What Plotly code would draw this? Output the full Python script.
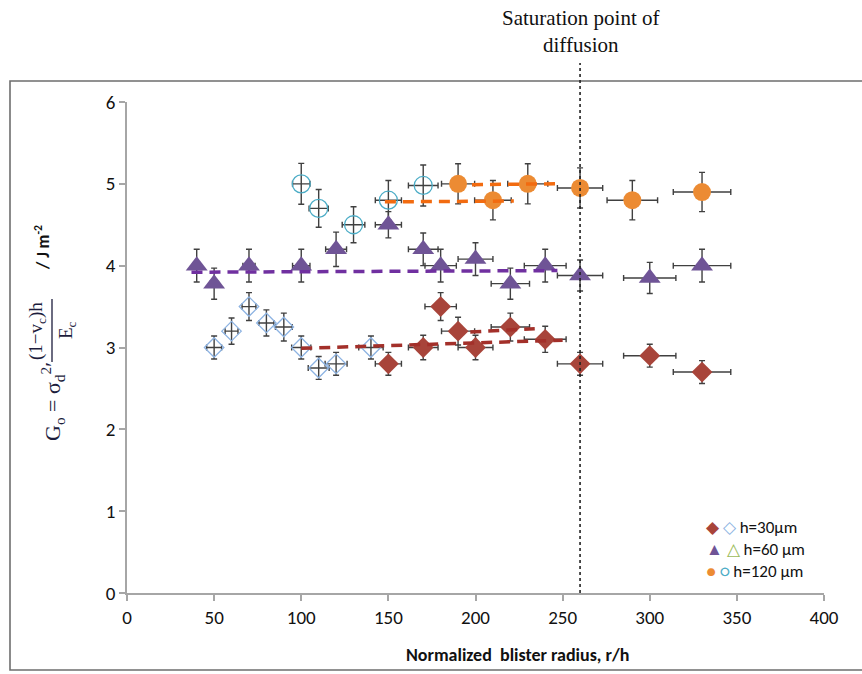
import plotly.graph_objects as go

# ---------------- data ----------------
# h = 30 um
d30_open_x = [50, 60, 70, 80, 90, 100, 110, 120, 140]
d30_open_y = [3.0, 3.2, 3.5, 3.3, 3.25, 3.0, 2.75, 2.8, 3.0]
d30_open_xerr = [4.3, 3.7, 4.0, 4.3, 4.8, 5.5, 6.0, 6.3, 7.0]
d30_open_yerr = [0.14, 0.16, 0.17, 0.16, 0.17, 0.14, 0.14, 0.14, 0.14]

d30_x = [150, 170, 180, 190, 200, 220, 240, 260, 300, 330]
d30_y = [2.8, 3.0, 3.5, 3.2, 3.0, 3.25, 3.1, 2.8, 2.9, 2.7]
d30_xerr = [7.5, 8.5, 9.0, 9.5, 10.0, 11.0, 12.0, 13.0, 15.0, 16.5]
d30_yerr = [0.14, 0.15, 0.17, 0.17, 0.15, 0.17, 0.16, 0.14, 0.14, 0.14]

# h = 60 um
d60_x = [40, 50, 70, 100, 120, 150, 170, 180, 200, 220, 240, 260, 300, 330]
d60_y = [4.0, 3.78, 4.0, 4.0, 4.2, 4.5, 4.2, 4.0, 4.08, 3.78, 4.0, 3.88, 3.85, 4.0]
d60_xerr = [2.0, 2.5, 3.5, 5.0, 6.0, 7.5, 8.5, 9.0, 10.0, 11.0, 12.0, 13.0, 15.0, 16.5]
d60_yerr = [0.2, 0.19, 0.2, 0.2, 0.21, 0.16, 0.2, 0.2, 0.2, 0.19, 0.2, 0.19, 0.19, 0.2]

# h = 120 um
d120_open_x = [100, 110, 130, 150, 170]
d120_open_y = [5.0, 4.7, 4.5, 4.8, 4.98]
d120_open_xerr = [5.0, 5.5, 6.5, 7.5, 8.5]
d120_open_yerr = [0.25, 0.23, 0.22, 0.24, 0.25]

d120_x = [190, 210, 230, 260, 290, 330]
d120_y = [5.0, 4.8, 5.0, 4.95, 4.8, 4.9]
d120_xerr = [9.5, 10.5, 11.5, 13.0, 14.5, 16.5]
d120_yerr = [0.245, 0.24, 0.245, 0.245, 0.24, 0.24]

# dashed trend lines
t30a_x = [100, 250]
t30a_y = [2.99, 3.09]
t30b_x = [197, 234]
t30b_y = [3.19, 3.23]
t60_x = [37, 247]
t60_y = [3.92, 3.94]
t120a_x = [148, 222]
t120a_y = [4.78, 4.79]
t120b_x = [198, 246]
t120b_y = [4.99, 5.0]

saturation_x = 260

x_ticks = [0, 50, 100, 150, 200, 250, 300, 350, 400]
y_ticks = [0, 1, 2, 3, 4, 5, 6]

# ---------------- styles ----------------
C_RED = "#A8443A"
C_PURPLE = "#6F5496"
C_ORANGE = "#EC8B33"
C_OPEN_D = "#8DB3E2"
C_OPEN_C = "#4BACC6"
C_OPEN_T = "#9BBB59"
ERR = dict(color="#404040", thickness=1.4, width=3)

L, R, T, B = 127, 824, 102, 593
W, H = 862, 674


def px(x):
    return (x - L) / (R - L)


def py(y):
    return (B - y) / (B - T)


def err(arr):
    return dict(type="data", array=arr, visible=True, **ERR)


fig = go.Figure()

fig.add_trace(go.Scatter(x=d30_open_x, y=d30_open_y, mode="markers",
                         marker=dict(symbol="diamond-open", size=15, color=C_OPEN_D, line=dict(width=1.3)),
                         error_x=err(d30_open_xerr), error_y=err(d30_open_yerr), showlegend=False))
fig.add_trace(go.Scatter(x=d120_open_x, y=d120_open_y, mode="markers",
                         marker=dict(symbol="circle-open", size=18, color=C_OPEN_C, line=dict(width=1.3)),
                         error_x=err(d120_open_xerr), error_y=err(d120_open_yerr), showlegend=False))
fig.add_trace(go.Scatter(x=d30_x, y=d30_y, mode="markers",
                         marker=dict(symbol="diamond", size=16, color=C_RED),
                         error_x=err(d30_xerr), error_y=err(d30_yerr), showlegend=False))
fig.add_trace(go.Scatter(x=d60_x, y=d60_y, mode="markers",
                         marker=dict(symbol="triangle-up", size=19, color=C_PURPLE),
                         error_x=err(d60_xerr), error_y=err(d60_yerr), showlegend=False))
fig.add_trace(go.Scatter(x=d120_x, y=d120_y, mode="markers",
                         marker=dict(symbol="circle", size=18, color=C_ORANGE),
                         error_x=err(d120_xerr), error_y=err(d120_yerr), showlegend=False))

DASH = "11px,7px"
for tx, ty, col in [(t30a_x, t30a_y, "#A3302A"), (t30b_x, t30b_y, "#A3302A"),
                    (t60_x, t60_y, "#7030A0"),
                    (t120a_x, t120a_y, "#F26B10"), (t120b_x, t120b_y, "#F26B10")]:
    fig.add_trace(go.Scatter(x=tx, y=ty, mode="lines",
                             line=dict(color=col, width=3.5, dash=DASH), showlegend=False))

SANS = "Carlito, Calibri, 'Open Sans', sans-serif"
TICKFONT = dict(family=SANS, size=19, color="#111111")
fig.update_xaxes(range=[0, 400], tickvals=x_ticks, ticktext=[str(v) for v in x_ticks],
                 showgrid=False, zeroline=False, showline=True, linecolor="#A6A6A6", linewidth=1.5,
                 ticks="outside", ticklen=6, tickcolor="#A6A6A6", tickwidth=1.5, tickfont=TICKFONT)
fig.update_yaxes(range=[0, 6], tickvals=y_ticks, ticktext=[str(v) for v in y_ticks],
                 showgrid=False, zeroline=False, showline=True, linecolor="#A6A6A6", linewidth=1.5,
                 ticks="outside", ticklen=6, tickcolor="#A6A6A6", tickwidth=1.5, tickfont=TICKFONT)

shapes = [
    # outer chart frame
    dict(type="rect", xref="paper", yref="paper", x0=px(10), x1=px(890), y0=py(670), y1=py(81),
         line=dict(color="#6E6E6E", width=1.6), layer="above"),
    # saturation line
    dict(type="line", xref="x", yref="paper", x0=saturation_x, x1=saturation_x, y0=0, y1=py(63),
         line=dict(color="#222222", width=1.6, dash="dot")),
    # fraction bar in y title
    dict(type="line", xref="paper", yref="paper", x0=px(52), x1=px(52), y0=py(362), y1=py(299),
         line=dict(color="#1C1C3C", width=1.3)),
]

FORM = dict(family="'Liberation Serif', 'DejaVu Serif', serif", color="#1C1C3C")
annotations = [
    dict(text="Saturation point of<br>diffusion", x=saturation_x, xref="x", y=py(31), yref="paper",
         showarrow=False, xanchor="center", yanchor="middle",
         font=dict(family="'Liberation Serif', 'Times New Roman', serif", size=21, color="#111111")),
    dict(text="<b>Normalized  blister radius, r/h</b>", x=px(517), y=py(655), xref="paper", yref="paper",
         showarrow=False, xanchor="center", yanchor="middle",
         font=dict(family=SANS, size=18, color="#111111")),
    # y-axis title pieces
    dict(text="G<sub>o</sub> = σ<sub>d</sub><sup>2</sup>′", x=px(53), y=py(402), xref="paper", yref="paper",
         textangle=-90, showarrow=False, xanchor="center", yanchor="middle", font=dict(size=22, **FORM)),
    dict(text="(1−v<sub>c</sub>)h", x=px(37), y=py(331), xref="paper", yref="paper",
         textangle=-90, showarrow=False, xanchor="center", yanchor="middle", font=dict(size=19, **FORM)),
    dict(text="E<sub>c</sub>", x=px(67), y=py(330), xref="paper", yref="paper",
         textangle=-90, showarrow=False, xanchor="center", yanchor="middle", font=dict(size=19, **FORM)),
    dict(text="<b>/ J m<sup>-2</sup></b>", x=px(43), y=py(248), xref="paper", yref="paper",
         textangle=-90, showarrow=False, xanchor="center", yanchor="middle",
         font=dict(family=SANS, size=17, color="#111111")),
]

LEGFONT = dict(family=SANS, size=17, color="#111111")
legend_rows = [
    ("◆", C_RED, "◇", C_OPEN_D, "h=30µm", 527),
    ("▲", C_PURPLE, "△", C_OPEN_T, "h=60 µm", 549),
    ("●", C_ORANGE, "○", C_OPEN_C, "h=120 µm", 571),
]
for filled, fc, opened, oc, label, ypx in legend_rows:
    annotations.append(dict(
        text=f"<span style='color:{fc}'>{filled}</span> <span style='color:{oc}'>{opened}</span> {label}",
        x=px(704), y=py(ypx), xref="paper", yref="paper", showarrow=False,
        xanchor="left", yanchor="middle", font=LEGFONT))

fig.update_layout(
    width=W, height=H,
    margin=dict(l=L, r=W - R, t=T, b=H - B, pad=0),
    paper_bgcolor="white", plot_bgcolor="white",
    shapes=shapes, annotations=annotations,
    showlegend=False,
)

fig.write_html("out.html", config={"displayModeBar": False},
               post_script="document.body.style.margin='0';document.body.style.padding='0';")
